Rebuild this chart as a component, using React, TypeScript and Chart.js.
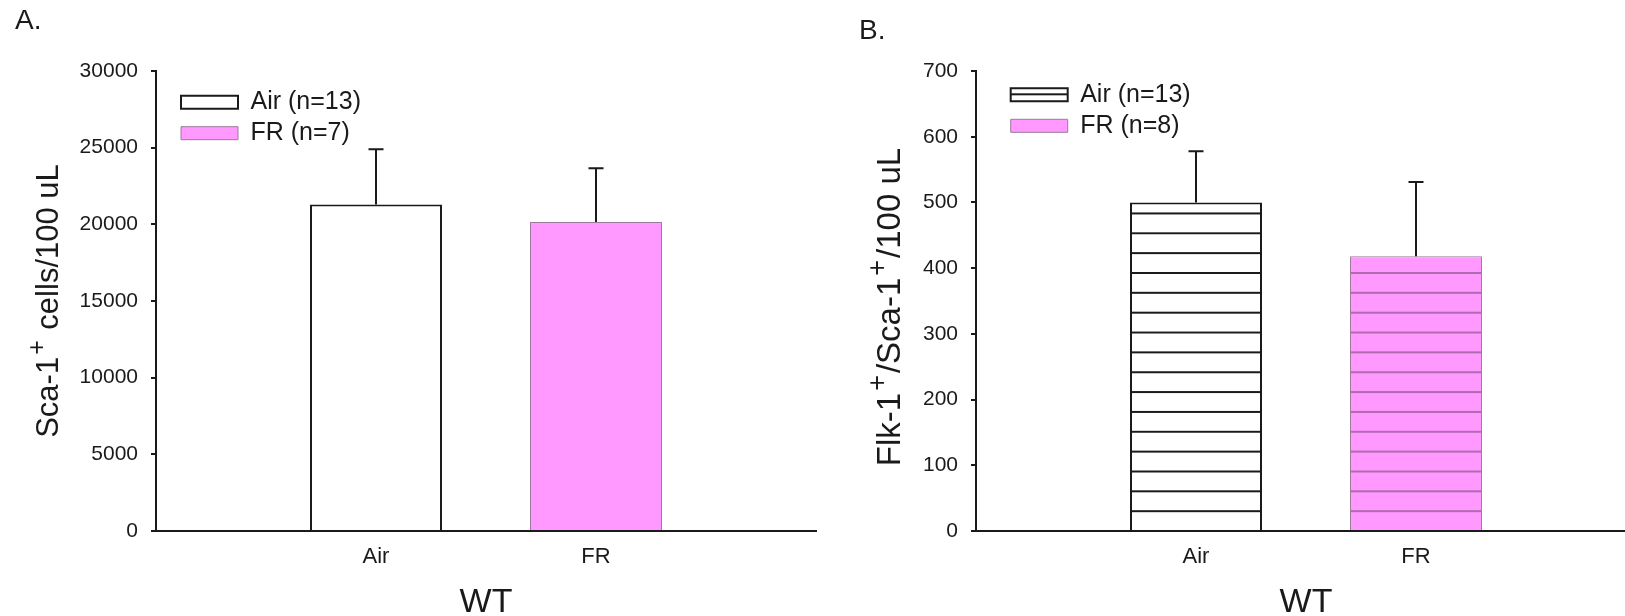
import React, { useEffect, useRef } from "react";
import { Chart, registerables } from "chart.js";

Chart.register(...registerables);

// ---------- data ----------
const categories = ["Air", "FR"];
const groupLabel = "WT";

const legendA = ["Air (n=13)", "FR (n=7)"];
const meansA = [21300, 20150];
const errorsA = [3600, 3500];
const yTicksA = [0, 5000, 10000, 15000, 20000, 25000, 30000];
// y-axis title pieces (sup = superscript)
const yTitleA = [
  { text: "Sca-1", sup: false },
  { text: "+", sup: true },
  { text: " cells/100 uL", sup: false },
];

const legendB = ["Air (n=13)", "FR (n=8)"];
const meansB = [500, 418];
const errorsB = [78, 113];
const yTicksB = [0, 100, 200, 300, 400, 500, 600, 700];
const yTitleB = [
  { text: "Flk-1", sup: false },
  { text: "+", sup: true },
  { text: "/Sca-1", sup: false },
  { text: "+", sup: true },
  { text: "/100 uL", sup: false },
];

// ---------- styles ----------
const FONT = "'Liberation Sans', Arial, Helvetica, sans-serif";
const INK = "#1a1a1a";
const PINK = "#ff99ff";
const fills = ["#ffffff", PINK];
const borders = [INK, "#9c7b9c"];
const borderWidths = [2, 1];
const hatchLines = [INK, "#b06ab0"];
const HATCH_SPACING = 19.85;
const TILE_H = 20;
const HATCH_W = 2;

type Seg = { text: string; sup: boolean };

type PanelSpec = {
  letter: string;
  legend: string[];
  means: number[];
  errors: number[];
  yTicks: number[];
  yTitle: Seg[];
  yTitleSize: number;
  supSize: number;
  yTitleX: number;
  yTitleShift: number;
  hatched: boolean;
  canvasLeft: number;
  canvasWidth: number;
  padLeft: number;
  padRight: number;
  yAxisWidth: number;
  letterPadTop: number;
  letterPadBottom: number;
  legendDx: number;
  legendDy: number;
};

const panelA: PanelSpec = {
  letter: "A.",
  legend: legendA,
  means: meansA,
  errors: errorsA,
  yTicks: yTicksA,
  yTitle: yTitleA,
  yTitleSize: 31,
  supSize: 25,
  yTitleX: 47,
  yTitleShift: 0,
  hatched: false,
  canvasLeft: 0,
  canvasWidth: 830,
  padLeft: 15,
  padRight: 14,
  yAxisWidth: 141,
  letterPadTop: 4.5,
  letterPadBottom: 32.9,
  legendDx: 19,
  legendDy: 12.7,
};

const panelB: PanelSpec = {
  letter: "B.",
  legend: legendB,
  means: meansB,
  errors: errorsB,
  yTicks: yTicksB,
  yTitle: yTitleB,
  yTitleSize: 33,
  supSize: 27,
  yTitleX: 58,
  yTitleShift: 6,
  hatched: true,
  canvasLeft: 830,
  canvasWidth: 810,
  padLeft: 29,
  padRight: 4,
  yAxisWidth: 117,
  letterPadTop: 14.5,
  letterPadBottom: 22.9,
  legendDx: 28.7,
  legendDy: 5.3,
};

function makeHatch(ctx: CanvasRenderingContext2D, fill: string, line: string) {
  const tile = document.createElement("canvas");
  tile.width = 8;
  tile.height = TILE_H;
  const c = tile.getContext("2d")!;
  c.fillStyle = fill;
  c.fillRect(0, 0, 8, TILE_H);
  c.fillStyle = line;
  c.fillRect(0, 0, 8, HATCH_W);
  return ctx.createPattern(tile, "repeat")!;
}

function Panel({ spec }: { spec: PanelSpec }) {
  const ref = useRef<HTMLCanvasElement>(null);

  useEffect(() => {
    const canvas = ref.current!;
    const ctx = canvas.getContext("2d")!;
    const patterns = spec.hatched
      ? categories.map((_, i) => makeHatch(ctx, fills[i], hatchLines[i]))
      : null;

    const layoutPlugin = {
      id: "panelLayout",
      afterLayout(chart: any) {
        const lg = chart.legend;
        const area = chart.chartArea;
        if (lg) {
          lg.left = area.left + spec.legendDx;
          lg.right = lg.left + lg.width;
          lg.top = area.top + spec.legendDy;
          lg.bottom = lg.top + lg.height;
        }
        if (patterns) {
          const s = HATCH_SPACING / TILE_H;
          patterns.forEach((p) =>
            p.setTransform(new DOMMatrix([1, 0, 0, s, 0, area.bottom - (s * HATCH_W) / 2]))
          );
        }
      },
    };

    const errorBarPlugin = {
      id: "errorBars",
      afterDatasetsDraw(chart: any) {
        const c = chart.ctx;
        const yScale = chart.scales.y;
        chart.data.datasets.forEach((ds: any, di: number) => {
          const meta = chart.getDatasetMeta(di);
          meta.data.forEach((el: any, i: number) => {
            const v = ds.data[i].y;
            const e = ds.errors[i];
            const x = el.x;
            const yTop = yScale.getPixelForValue(v + e);
            c.save();
            c.strokeStyle = INK;
            c.lineWidth = 2;
            c.beginPath();
            c.moveTo(x, el.y);
            c.lineTo(x, yTop);
            c.moveTo(x - 7.5, yTop);
            c.lineTo(x + 7.5, yTop);
            c.stroke();
            c.restore();
          });
        });
      },
    };

    const SUP_GAP = 2;
    const yTitlePlugin = {
      id: "yTitleRich",
      afterDraw(chart: any) {
        const c = chart.ctx;
        const area = chart.chartArea;
        const base = `${spec.yTitleSize}px ${FONT}`;
        const sup = `${spec.supSize}px ${FONT}`;
        c.save();
        let total = 0;
        const widths = spec.yTitle.map((s) => {
          c.font = s.sup ? sup : base;
          const w = c.measureText(s.text).width + (s.sup ? 2 * SUP_GAP : 0);
          total += w;
          return w;
        });
        c.translate(spec.yTitleX, (area.top + area.bottom) / 2 + spec.yTitleShift);
        c.rotate(-Math.PI / 2);
        c.fillStyle = INK;
        c.textAlign = "left";
        c.textBaseline = "alphabetic";
        const baseline = spec.yTitleSize * 0.358;
        let x = -total / 2;
        spec.yTitle.forEach((s, i) => {
          c.font = s.sup ? sup : base;
          if (s.sup) {
            c.fillText(s.text, x + SUP_GAP, baseline - spec.yTitleSize * 0.42);
          } else {
            c.fillText(s.text, x, baseline);
          }
          x += widths[i];
        });
        c.restore();
      },
    };

    const chart = new Chart(canvas, {
      type: "bar",
      data: {
        datasets: categories.map((cat, i) => ({
          label: spec.legend[i],
          data: [{ x: i + 1, y: spec.means[i] }],
          errors: [spec.errors[i]],
          backgroundColor: patterns ? patterns[i] : fills[i],
          borderColor: borders[i],
          borderWidth: borderWidths[i],
          grouped: false,
          barPercentage: 0.6,
          categoryPercentage: 1,
        })) as any,
      },
      options: {
        responsive: false,
        animation: false,
        events: [],
        devicePixelRatio: 1,
        layout: { padding: { left: spec.padLeft, right: spec.padRight, top: 0, bottom: 0 } },
        plugins: {
          tooltip: { enabled: false },
          title: {
            display: true,
            text: spec.letter,
            align: "start",
            color: INK,
            font: { family: FONT, size: 28, weight: "normal" },
            padding: { top: spec.letterPadTop, bottom: spec.letterPadBottom },
          },
          legend: {
            display: true,
            position: "chartArea",
            align: "start",
            labels: {
              boxWidth: 57,
              boxHeight: 13,
              padding: 6,
              color: INK,
              font: { family: FONT, size: 25 },
            },
          },
        },
        scales: {
          x: {
            type: "linear",
            min: 0,
            max: categories.length + 1,
            offset: false,
            grid: { display: false, drawTicks: false, offset: false },
            border: { display: true, color: INK, width: 2 },
            afterBuildTicks: (s: any) => {
              s.ticks = categories.map((_, i) => ({ value: i + 1 }));
            },
            afterFit: (s: any) => {
              s.height = 85;
            },
            ticks: {
              autoSkip: false,
              maxRotation: 0,
              padding: 13,
              color: INK,
              font: { family: FONT, size: 22 },
              callback: (v: any) => categories[Number(v) - 1] ?? "",
            },
            title: {
              display: true,
              text: groupLabel,
              color: INK,
              font: { family: FONT, size: 34, lineHeight: 0.78 },
              padding: 0,
            },
          },
          y: {
            type: "linear",
            min: 0,
            max: spec.yTicks[spec.yTicks.length - 1],
            afterBuildTicks: (s: any) => {
              s.ticks = spec.yTicks.map((v) => ({ value: v }));
            },
            afterFit: (s: any) => {
              s.width = spec.yAxisWidth;
            },
            grid: {
              display: true,
              drawOnChartArea: false,
              drawTicks: true,
              tickLength: 5,
              color: INK,
              lineWidth: 2,
            },
            border: { display: true, color: INK, width: 2 },
            ticks: {
              padding: 13,
              color: INK,
              font: { family: FONT, size: 21 },
              callback: (v: any) => String(v),
            },
            title: { display: false },
          },
        },
      } as any,
      plugins: [layoutPlugin, errorBarPlugin, yTitlePlugin],
    });

    return () => chart.destroy();
  }, [spec]);

  return (
    <canvas
      ref={ref}
      width={spec.canvasWidth}
      height={616}
      style={{
        position: "absolute",
        left: spec.canvasLeft,
        top: 0,
        width: spec.canvasWidth,
        height: 616,
      }}
    />
  );
}

export default function App() {
  return (
    <div
      style={{
        position: "absolute",
        left: 0,
        top: 0,
        width: 1625,
        height: 616,
        overflow: "hidden",
        background: "#ffffff",
      }}
    >
      <Panel spec={panelA} />
      <Panel spec={panelB} />
    </div>
  );
}
